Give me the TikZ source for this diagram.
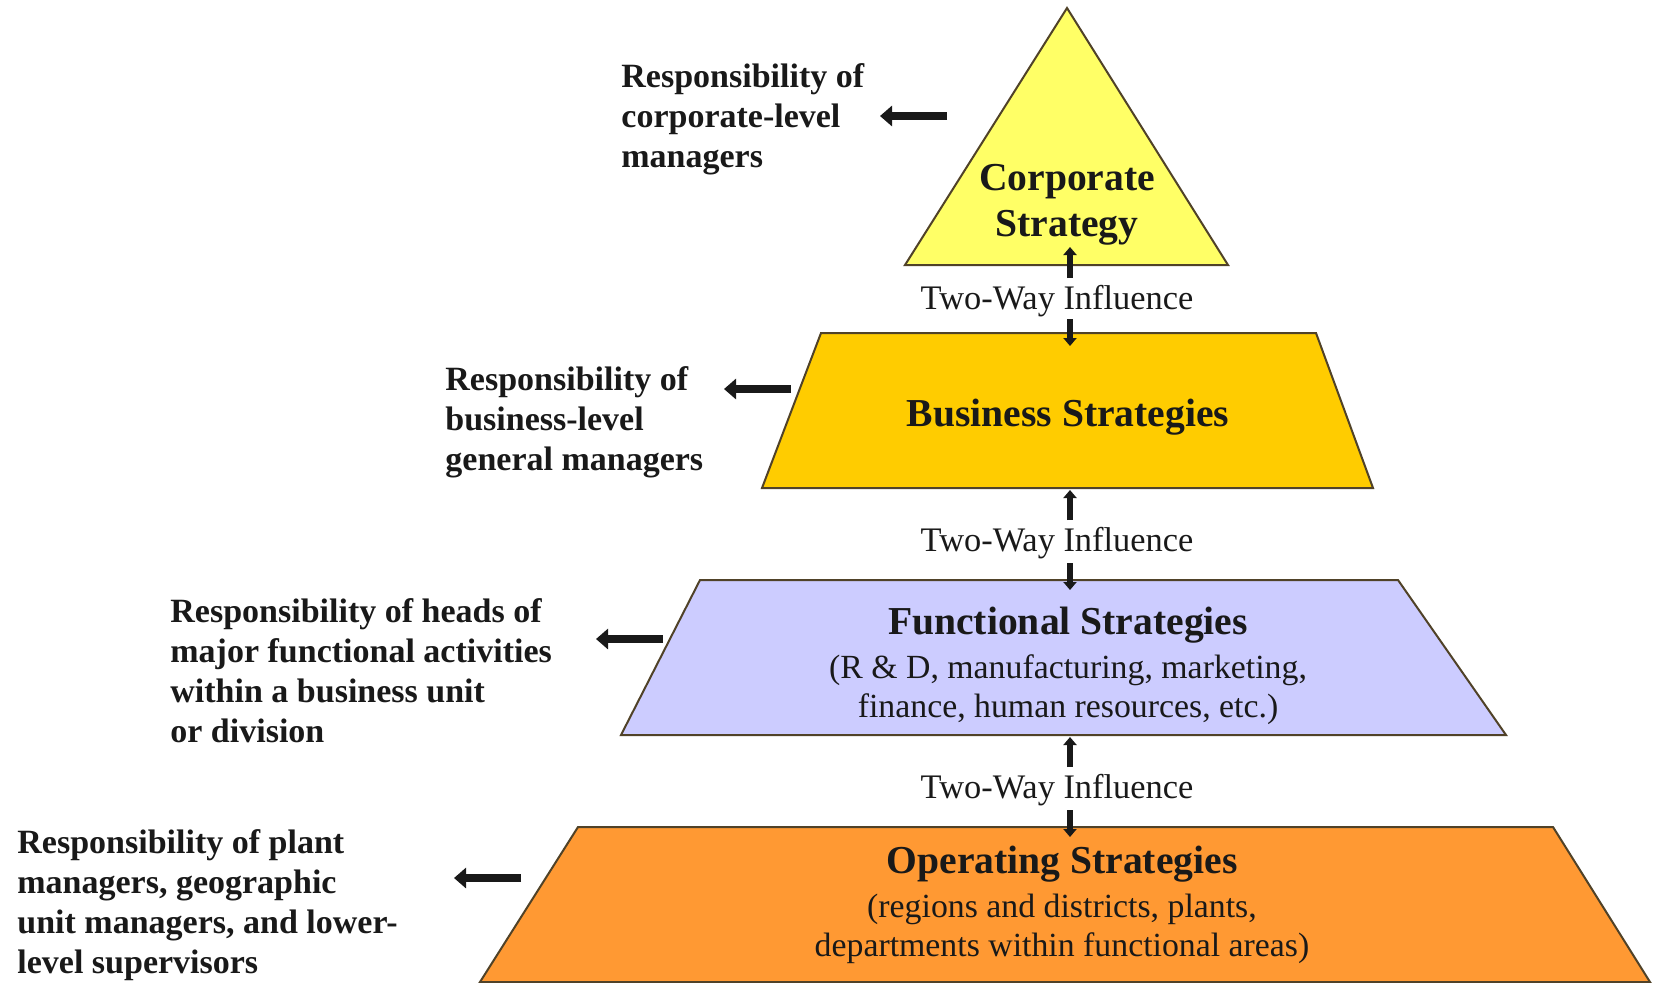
\documentclass[tikz,border=0pt]{standalone}
\usepackage{fontspec}
\setmainfont{Liberation Serif}
\usetikzlibrary{arrows.meta}
\definecolor{corpyellow}{RGB}{255,255,102}
\definecolor{busgold}{RGB}{255,204,0}
\definecolor{funclav}{RGB}{204,204,255}
\definecolor{operorange}{RGB}{255,153,51}
\definecolor{edgebrown}{RGB}{80,66,40}
\definecolor{ink}{RGB}{25,25,25}

\begin{document}
\begin{tikzpicture}[
        x=0.5pt, y=-0.5pt,
        level/.style={draw=edgebrown, line width=1pt},
        title/.style={font=\fontsize{19.8}{23}\selectfont\bfseries, text=ink, align=center, inner sep=0pt},
        detail/.style={font=\fontsize{16.9}{19.5}\selectfont, text=ink, align=center, inner sep=0pt},
        resp/.style={font=\fontsize{17}{20}\selectfont\bfseries, text=ink, align=left, anchor=west, inner sep=0pt},
        infl/.style={font=\fontsize{17.2}{19}\selectfont, text=ink, inner sep=0pt},
        ar/.style={-{Triangle[length=6pt, width=10pt]}, line width=4pt, ink},
        tw/.style={-{Triangle[length=4pt, width=6.5pt]}, line width=3pt, ink},
    ]
    \useasboundingbox (0,0) rectangle (1654,982);

    % pyramid levels
    \draw[level, fill=corpyellow] (1067,8) -- (1228,265) -- (905,265) -- cycle;
    \draw[level, fill=busgold] (821,333) -- (1316,333) -- (1373,488) -- (762,488) -- cycle;
    \draw[level, fill=funclav] (700,580) -- (1398,580) -- (1506,735) -- (621,735) -- cycle;
    \draw[level, fill=operorange] (578,827) -- (1553,827) -- (1650,982) -- (480,982) -- cycle;

    \node[title](corp) at (1067,205) {Corporate\\Strategy};
    \node[title](bus) at (1068,417) {Business Strategies};
    \node[title](func) at (1068,625) {Functional Strategies};
    \node[detail](funcd) at (1068,690) {(R \& D, manufacturing, marketing,\\finance, human resources, etc.)};
    \node[title](oper) at (1062,864) {Operating Strategies};
    \node[detail](operd) at (1062,929) {(regions and districts, plants,\\departments within functional areas)};

    % who is responsible
    \node[resp](rcorp) at (621,119) {Responsibility of\\corporate-level\\managers};
    \node[resp](rbus) at (445,422) {Responsibility of\\business-level\\general managers};
    \node[resp](rfunc) at (170,671) {Responsibility of heads of\\major functional activities\\within a business unit\\or division};
    \node[resp](roper) at (17,905) {Responsibility of plant\\managers, geographic\\unit managers, and lower-\\level supervisors};

    \coordinate (a1) at (947,116);  \coordinate (b1) at (880,116);
    \coordinate (a2) at (791,389);  \coordinate (b2) at (724,389);
    \coordinate (a3) at (663,639);  \coordinate (b3) at (596,639);
    \coordinate (a4) at (521,878);  \coordinate (b4) at (454,878);

    \path[ar]
    (a1) edge (b1)
    (a2) edge (b2)
    (a3) edge (b3)
    (a4) edge (b4)
    ;

    % two-way influence between levels
    \node[infl](tw1) at (1057,301) {Two-Way Influence};
    \node[infl](tw2) at (1057,543) {Two-Way Influence};
    \node[infl](tw3) at (1057,790) {Two-Way Influence};

    \coordinate (u1) at (1070,278); \coordinate (v1) at (1070,247);
    \coordinate (d1) at (1070,319); \coordinate (e1) at (1070,346);
    \coordinate (u2) at (1070,520); \coordinate (v2) at (1070,490);
    \coordinate (d2) at (1070,563); \coordinate (e2) at (1070,590);
    \coordinate (u3) at (1070,767); \coordinate (v3) at (1070,737);
    \coordinate (d3) at (1070,810); \coordinate (e3) at (1070,837);

    \path[tw]
    (u1) edge (v1)
    (d1) edge (e1)
    (u2) edge (v2)
    (d2) edge (e2)
    (u3) edge (v3)
    (d3) edge (e3)
    ;
\end{tikzpicture}
\end{document}
